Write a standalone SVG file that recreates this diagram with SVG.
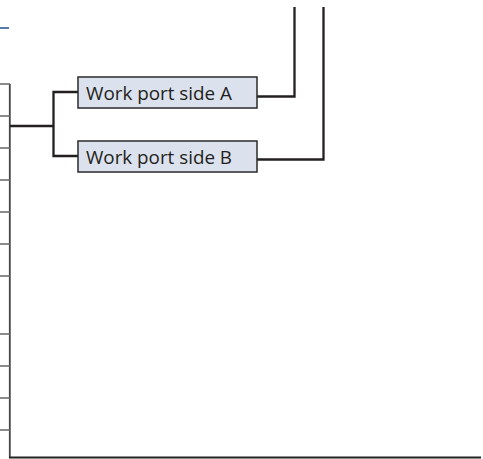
<svg xmlns="http://www.w3.org/2000/svg" width="483" height="459" viewBox="0 0 483 459">
<style>
.box{fill:#dce1ee;stroke:#2a2a2a;stroke-width:1.5}
.lbl{font-family:"Open Sans","Liberation Sans",sans-serif;font-size:18.5px;fill:#231f20}
.wire{fill:none;stroke:#231f20;stroke-width:2.3}
.tick{stroke:#666;stroke-width:1.5}
</style>
<rect width="483" height="459" fill="#fff"/>
<line x1="0" y1="28" x2="9" y2="28" stroke="#1f4e8c" stroke-width="1.5"/>
<g id="frame">
<line x1="9.8" y1="84" x2="9.8" y2="458" stroke="#444" stroke-width="1.8"/>
<line x1="9" y1="457.5" x2="481" y2="457.5" stroke="#222" stroke-width="2"/>
<g class="tick">
<line x1="0" y1="84" x2="10" y2="84"/>
<line x1="0" y1="116" x2="10" y2="116"/>
<line x1="0" y1="148" x2="10" y2="148"/>
<line x1="0" y1="180" x2="10" y2="180"/>
<line x1="0" y1="212" x2="10" y2="212"/>
<line x1="0" y1="244" x2="10" y2="244"/>
<line x1="0" y1="276" x2="10" y2="276"/>
<line x1="0" y1="334" x2="10" y2="334"/>
<line x1="0" y1="366" x2="10" y2="366"/>
<line x1="0" y1="398" x2="10" y2="398"/>
<line x1="0" y1="430" x2="10" y2="430"/>
</g>
</g>
<g id="connectors">
<path class="wire" d="M10,126 H53.5"/>
<path class="wire" d="M78,92 H53.5 V156 H78"/>
<path class="wire" d="M257,96.5 H294.5 V7"/>
<path class="wire" d="M257,159.5 H323.5 V7"/>
</g>
<g id="workA">
<rect class="box" x="78" y="77" width="179" height="31"/>
<text class="lbl" x="86" y="100" textLength="146" lengthAdjust="spacingAndGlyphs">Work port side A</text>
</g>
<g id="workB">
<rect class="box" x="78" y="141" width="179" height="31"/>
<text class="lbl" x="86" y="164" textLength="146" lengthAdjust="spacingAndGlyphs">Work port side B</text>
</g>
</svg>
